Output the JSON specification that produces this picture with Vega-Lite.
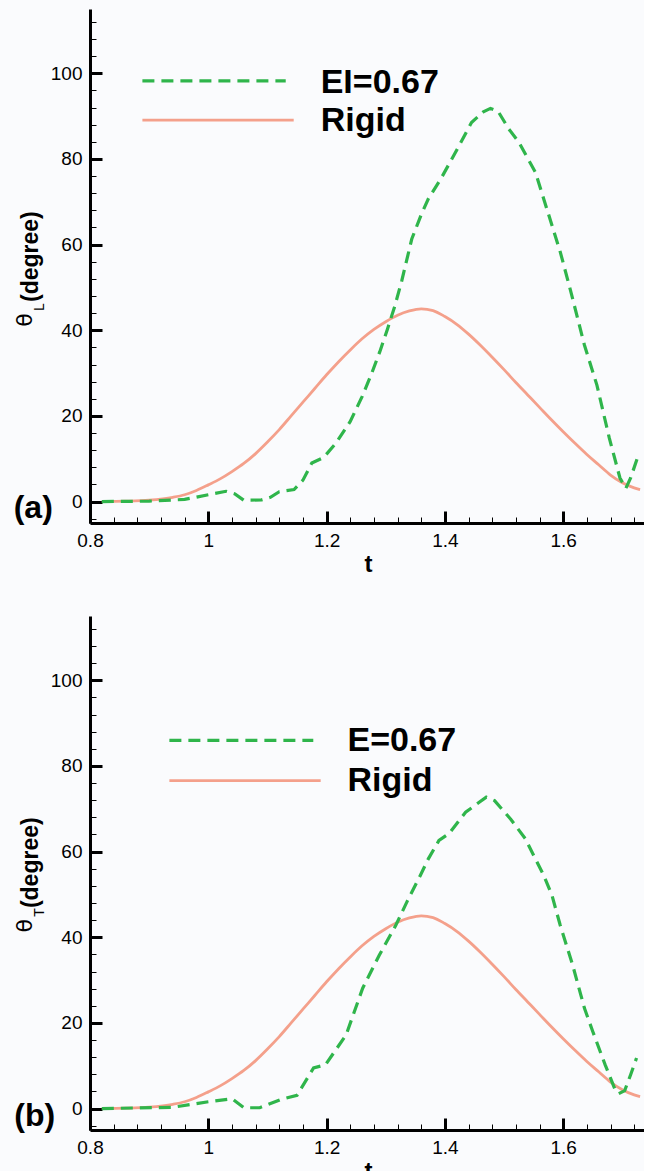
{
  "$schema": "https://vega.github.io/schema/vega-lite/v6.json",
  "autosize": {"type": "pad"},
  "padding": {"left": 13, "top": 9, "right": -2, "bottom": -12},
  "background": "#fafbfd",
  "bounds": "flush",
  "spacing": 93,
  "config": {
    "view": {"stroke": null},
    "font": "Liberation Sans",
    "axis": {"grid": false, "domainColor": "black", "tickColor": "black", "labelColor": "black", "titleColor": "black", "labelFont": "Liberation Sans", "titleFont": "Liberation Sans", "labelOverlap": false, "labelFlush": false}
  },
  "datasets": {
    "rigid": [
      {"t": 0.82, "theta": 0}, {"t": 0.86, "theta": 0.1}, {"t": 0.9, "theta": 0.35}, {"t": 0.94, "theta": 1.0},
      {"t": 0.96, "theta": 1.6}, {"t": 0.98, "theta": 2.6}, {"t": 1.0, "theta": 3.9}, {"t": 1.02, "theta": 5.3},
      {"t": 1.04, "theta": 7.0}, {"t": 1.06, "theta": 8.9}, {"t": 1.08, "theta": 11.2}, {"t": 1.1, "theta": 13.9},
      {"t": 1.12, "theta": 16.8}, {"t": 1.14, "theta": 20.0}, {"t": 1.16, "theta": 23.2}, {"t": 1.18, "theta": 26.4},
      {"t": 1.2, "theta": 29.6}, {"t": 1.22, "theta": 32.6}, {"t": 1.24, "theta": 35.4}, {"t": 1.26, "theta": 38.0},
      {"t": 1.28, "theta": 40.2}, {"t": 1.3, "theta": 42.0}, {"t": 1.32, "theta": 43.5}, {"t": 1.34, "theta": 44.5},
      {"t": 1.36, "theta": 45.0}, {"t": 1.38, "theta": 44.6}, {"t": 1.4, "theta": 43.2}, {"t": 1.42, "theta": 41.4},
      {"t": 1.44, "theta": 39.1}, {"t": 1.46, "theta": 36.5}, {"t": 1.48, "theta": 33.7}, {"t": 1.5, "theta": 30.8},
      {"t": 1.52, "theta": 27.8}, {"t": 1.54, "theta": 24.9}, {"t": 1.56, "theta": 22.0}, {"t": 1.58, "theta": 19.1},
      {"t": 1.6, "theta": 16.3}, {"t": 1.62, "theta": 13.6}, {"t": 1.64, "theta": 11.0}, {"t": 1.66, "theta": 8.6},
      {"t": 1.68, "theta": 6.2}, {"t": 1.7, "theta": 4.4}, {"t": 1.72, "theta": 3.2}, {"t": 1.73, "theta": 2.8}
    ],
    "flexA": [
      {"t": 0.82, "theta": 0}, {"t": 0.9, "theta": 0.1}, {"t": 0.96, "theta": 0.5}, {"t": 1.0, "theta": 1.6},
      {"t": 1.03, "theta": 2.4}, {"t": 1.045, "theta": 1.8}, {"t": 1.06, "theta": 0.3}, {"t": 1.09, "theta": 0.4},
      {"t": 1.105, "theta": 1.0}, {"t": 1.12, "theta": 2.3}, {"t": 1.145, "theta": 2.8}, {"t": 1.16, "theta": 5.0},
      {"t": 1.175, "theta": 9.0}, {"t": 1.195, "theta": 10.3}, {"t": 1.215, "theta": 13.5}, {"t": 1.24, "theta": 18.7},
      {"t": 1.26, "theta": 24.5}, {"t": 1.275, "theta": 29.5}, {"t": 1.29, "theta": 35.0}, {"t": 1.303, "theta": 40.3},
      {"t": 1.315, "theta": 45.5}, {"t": 1.327, "theta": 51.5}, {"t": 1.344, "theta": 61.3}, {"t": 1.36, "theta": 67.0},
      {"t": 1.372, "theta": 70.7}, {"t": 1.393, "theta": 75.3}, {"t": 1.421, "theta": 82.3}, {"t": 1.445, "theta": 88.5},
      {"t": 1.465, "theta": 91.0}, {"t": 1.477, "theta": 91.8}, {"t": 1.49, "theta": 91.1}, {"t": 1.508, "theta": 87.0},
      {"t": 1.525, "theta": 83.9}, {"t": 1.553, "theta": 76.9}, {"t": 1.574, "theta": 67.6}, {"t": 1.595, "theta": 58.3},
      {"t": 1.612, "theta": 49.5}, {"t": 1.636, "theta": 36.5}, {"t": 1.657, "theta": 27.2}, {"t": 1.678, "theta": 14.8},
      {"t": 1.696, "theta": 5.5}, {"t": 1.706, "theta": 3.1}, {"t": 1.714, "theta": 5.5}, {"t": 1.725, "theta": 10.0}
    ],
    "flexB": [
      {"t": 0.82, "theta": 0}, {"t": 0.94, "theta": 0.3}, {"t": 1.0, "theta": 1.6}, {"t": 1.04, "theta": 2.3},
      {"t": 1.06, "theta": 0.2}, {"t": 1.087, "theta": 0.2}, {"t": 1.122, "theta": 2.1}, {"t": 1.15, "theta": 3.1},
      {"t": 1.178, "theta": 9.5}, {"t": 1.198, "theta": 10.2}, {"t": 1.233, "theta": 17.2}, {"t": 1.261, "theta": 28.1},
      {"t": 1.289, "theta": 35.8}, {"t": 1.317, "theta": 42.8}, {"t": 1.337, "theta": 48.6}, {"t": 1.358, "theta": 54.3},
      {"t": 1.372, "theta": 58.3}, {"t": 1.39, "theta": 62.6}, {"t": 1.407, "theta": 64.2}, {"t": 1.435, "theta": 69.2},
      {"t": 1.47, "theta": 72.7}, {"t": 1.484, "theta": 71.9}, {"t": 1.511, "theta": 67.6}, {"t": 1.536, "theta": 63.0},
      {"t": 1.553, "theta": 58.3}, {"t": 1.567, "theta": 54.5}, {"t": 1.581, "theta": 49.8}, {"t": 1.595, "theta": 42.8},
      {"t": 1.616, "theta": 33.5}, {"t": 1.636, "theta": 23.4}, {"t": 1.65, "theta": 18.0}, {"t": 1.671, "theta": 10.2},
      {"t": 1.689, "theta": 4.0}, {"t": 1.694, "theta": 3.5}, {"t": 1.704, "theta": 4.2}, {"t": 1.714, "theta": 7.9},
      {"t": 1.724, "theta": 11.8}
    ]
  },
  "vconcat": [
    {
      "width": 556,
      "height": 514,
      "resolve": {"axis": {"x": "independent", "y": "independent"}},
      "layer": [
        {
          "data": {"name": "rigid"},
          "mark": {"type": "line", "color": "#f4a08b", "strokeWidth": 2.8, "interpolate": "monotone"},
          "encoding": {
            "x": {"field": "t", "type": "quantitative", "scale": {"domain": [0.8, 1.74], "nice": false, "zero": false},
              "axis": {"orient": "bottom", "values": [0.8, 1, 1.2, 1.4, 1.6], "format": "~g", "ticks": false, "domainWidth": 3,
                "labelFontSize": 19, "labelPadding": 8, "title": "t", "titleFontSize": 24, "titleFontWeight": "bold", "titlePadding": 2}},
            "y": {"field": "theta", "type": "quantitative", "scale": {"domain": [-5, 115], "nice": false, "zero": false},
              "axis": {"orient": "left", "values": [0, 20, 40, 60, 80, 100], "format": "d", "ticks": false, "domainWidth": 3,
                "labelFontSize": 19, "labelPadding": 8, "title": null}}
          }
        },
        {
          "data": {"name": "flexA"},
          "mark": {"type": "line", "color": "#2fb54b", "strokeWidth": 3.2, "strokeDash": [12, 7]},
          "encoding": {
            "x": {"field": "t", "type": "quantitative",
              "axis": {"orient": "bottom", "values": [0.8, 1, 1.2, 1.4, 1.6], "labels": false, "domain": false, "tickSize": -12, "tickWidth": 3, "title": null}},
            "y": {"field": "theta", "type": "quantitative",
              "axis": {"orient": "left", "values": [0, 20, 40, 60, 80, 100], "labels": false, "domain": false, "tickSize": -12, "tickWidth": 3, "title": null}}
          }
        },
        {
          "data": {"values": [{}]},
          "mark": {"type": "rule", "color": "#2fb54b", "strokeWidth": 3.2, "strokeDash": [12, 7]},
          "encoding": {
            "x": {"datum": 0.8886, "type": "quantitative",
              "axis": {"orient": "bottom", "values": [0.84, 0.88, 0.92, 0.96, 1.04, 1.08, 1.12, 1.16, 1.24, 1.28, 1.32, 1.36, 1.44, 1.48, 1.52, 1.56, 1.64, 1.68, 1.72], "labels": false, "domain": false, "tickSize": -6, "tickWidth": 1, "title": null}},
            "x2": {"datum": 1.1309},
            "y": {"datum": 98.2, "type": "quantitative",
              "axis": {"orient": "left", "values": [-4, 4, 8, 12, 16, 24, 28, 32, 36, 44, 48, 52, 56, 64, 68, 72, 76, 84, 88, 92, 96, 104, 108, 112], "labels": false, "domain": false, "tickSize": -6, "tickWidth": 1, "title": null}}
          }
        },
        {
          "data": {"values": [{}]},
          "mark": {"type": "rule", "color": "#f4a08b", "strokeWidth": 2.8},
          "encoding": {"x": {"datum": 0.8886, "axis": null}, "x2": {"datum": 1.1444}, "y": {"datum": 89.06, "axis": null}}
        },
        {
          "data": {"values": [{}]},
          "mark": {"type": "text", "text": "EI=0.67", "font": "Liberation Sans", "fontSize": 34, "fontWeight": "bold", "align": "left", "baseline": "alphabetic", "color": "black"},
          "encoding": {"x": {"datum": 1.19, "axis": null}, "y": {"datum": 95.5, "axis": null}}
        },
        {
          "data": {"values": [{}]},
          "mark": {"type": "text", "text": "Rigid", "font": "Liberation Sans", "fontSize": 34, "fontWeight": "bold", "align": "left", "baseline": "alphabetic", "color": "black"},
          "encoding": {"x": {"datum": 1.19, "axis": null}, "y": {"datum": 86.57, "axis": null}}
        },
        {
          "data": {"values": [{}]},
          "mark": {"type": "text", "text": "(a)", "font": "Liberation Sans", "fontSize": 32, "fontWeight": "bold", "align": "left", "baseline": "alphabetic", "color": "black"},
          "encoding": {"x": {"datum": 0.671, "axis": null}, "y": {"datum": -3.84, "axis": null}}
        },
        {
          "data": {"values": [{}]},
          "mark": {"type": "text", "text": "θ", "font": "DejaVu Sans", "fontSize": 22, "angle": 270, "align": "left", "baseline": "alphabetic", "color": "black"},
          "encoding": {"x": {"datum": 0.7014, "axis": null}, "y": {"datum": 40.8, "axis": null}}
        },
        {
          "data": {"values": [{}]},
          "mark": {"type": "text", "text": "L", "font": "Liberation Sans", "fontSize": 14, "angle": 270, "align": "left", "baseline": "alphabetic", "color": "black"},
          "encoding": {"x": {"datum": 0.7217, "axis": null}, "y": {"datum": 44.5, "axis": null}}
        },
        {
          "data": {"values": [{}]},
          "mark": {"type": "text", "text": "(degree)", "font": "Liberation Sans", "fontSize": 23, "fontWeight": "bold", "angle": 270, "align": "left", "baseline": "alphabetic", "color": "black"},
          "encoding": {"x": {"datum": 0.7116, "axis": null}, "y": {"datum": 46.6, "axis": null}}
        }
      ]
    },
    {
      "width": 556,
      "height": 514,
      "resolve": {"axis": {"x": "independent", "y": "independent"}},
      "layer": [
        {
          "data": {"name": "rigid"},
          "mark": {"type": "line", "color": "#f4a08b", "strokeWidth": 2.8, "interpolate": "monotone"},
          "encoding": {
            "x": {"field": "t", "type": "quantitative", "scale": {"domain": [0.8, 1.74], "nice": false, "zero": false},
              "axis": {"orient": "bottom", "values": [0.8, 1, 1.2, 1.4, 1.6], "format": "~g", "ticks": false, "domainWidth": 3,
                "labelFontSize": 19, "labelPadding": 8, "title": "t", "titleFontSize": 24, "titleFontWeight": "bold", "titlePadding": 2}},
            "y": {"field": "theta", "type": "quantitative", "scale": {"domain": [-5, 115], "nice": false, "zero": false},
              "axis": {"orient": "left", "values": [0, 20, 40, 60, 80, 100], "format": "d", "ticks": false, "domainWidth": 3,
                "labelFontSize": 19, "labelPadding": 8, "title": null}}
          }
        },
        {
          "data": {"name": "flexB"},
          "mark": {"type": "line", "color": "#2fb54b", "strokeWidth": 3.2, "strokeDash": [12, 7]},
          "encoding": {
            "x": {"field": "t", "type": "quantitative",
              "axis": {"orient": "bottom", "values": [0.8, 1, 1.2, 1.4, 1.6], "labels": false, "domain": false, "tickSize": -12, "tickWidth": 3, "title": null}},
            "y": {"field": "theta", "type": "quantitative",
              "axis": {"orient": "left", "values": [0, 20, 40, 60, 80, 100], "labels": false, "domain": false, "tickSize": -12, "tickWidth": 3, "title": null}}
          }
        },
        {
          "data": {"values": [{}]},
          "mark": {"type": "rule", "color": "#2fb54b", "strokeWidth": 3.2, "strokeDash": [12, 7]},
          "encoding": {
            "x": {"datum": 0.9342, "type": "quantitative",
              "axis": {"orient": "bottom", "values": [0.84, 0.88, 0.92, 0.96, 1.04, 1.08, 1.12, 1.16, 1.24, 1.28, 1.32, 1.36, 1.44, 1.48, 1.52, 1.56, 1.64, 1.68, 1.72], "labels": false, "domain": false, "tickSize": -6, "tickWidth": 1, "title": null}},
            "x2": {"datum": 1.1775},
            "y": {"datum": 85.97, "type": "quantitative",
              "axis": {"orient": "left", "values": [-4, 4, 8, 12, 16, 24, 28, 32, 36, 44, 48, 52, 56, 64, 68, 72, 76, 84, 88, 92, 96, 104, 108, 112], "labels": false, "domain": false, "tickSize": -6, "tickWidth": 1, "title": null}}
          }
        },
        {
          "data": {"values": [{}]},
          "mark": {"type": "rule", "color": "#f4a08b", "strokeWidth": 2.8},
          "encoding": {"x": {"datum": 0.9342, "axis": null}, "x2": {"datum": 1.19}, "y": {"datum": 76.56, "axis": null}}
        },
        {
          "data": {"values": [{}]},
          "mark": {"type": "text", "text": "E=0.67", "font": "Liberation Sans", "fontSize": 34, "fontWeight": "bold", "align": "left", "baseline": "alphabetic", "color": "black"},
          "encoding": {"x": {"datum": 1.2353, "axis": null}, "y": {"datum": 83.55, "axis": null}}
        },
        {
          "data": {"values": [{}]},
          "mark": {"type": "text", "text": "Rigid", "font": "Liberation Sans", "fontSize": 34, "fontWeight": "bold", "align": "left", "baseline": "alphabetic", "color": "black"},
          "encoding": {"x": {"datum": 1.2353, "axis": null}, "y": {"datum": 74.24, "axis": null}}
        },
        {
          "data": {"values": [{}]},
          "mark": {"type": "text", "text": "(b)", "font": "Liberation Sans", "fontSize": 32, "fontWeight": "bold", "align": "left", "baseline": "alphabetic", "color": "black"},
          "encoding": {"x": {"datum": 0.672, "axis": null}, "y": {"datum": -3.95, "axis": null}}
        },
        {
          "data": {"values": [{}]},
          "mark": {"type": "text", "text": "θ", "font": "DejaVu Sans", "fontSize": 22, "angle": 270, "align": "left", "baseline": "alphabetic", "color": "black"},
          "encoding": {"x": {"datum": 0.7014, "axis": null}, "y": {"datum": 41.1, "axis": null}}
        },
        {
          "data": {"values": [{}]},
          "mark": {"type": "text", "text": "T", "font": "Liberation Sans", "fontSize": 14, "angle": 270, "align": "left", "baseline": "alphabetic", "color": "black"},
          "encoding": {"x": {"datum": 0.7217, "axis": null}, "y": {"datum": 44.8, "axis": null}}
        },
        {
          "data": {"values": [{}]},
          "mark": {"type": "text", "text": "(degree)", "font": "Liberation Sans", "fontSize": 23, "fontWeight": "bold", "angle": 270, "align": "left", "baseline": "alphabetic", "color": "black"},
          "encoding": {"x": {"datum": 0.7116, "axis": null}, "y": {"datum": 46.8, "axis": null}}
        }
      ]
    }
  ]
}
